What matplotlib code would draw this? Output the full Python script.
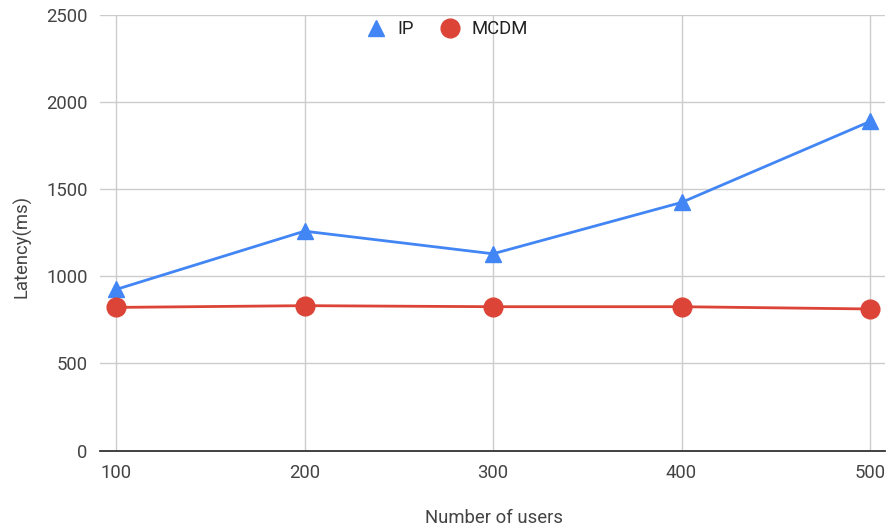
import matplotlib
matplotlib.use("Agg")
import matplotlib.pyplot as plt

users = [100, 200, 300, 400, 500]
ip_latency = [925, 1260, 1130, 1425, 1890]
mcdm_latency = [822, 832, 826, 826, 813]
y_ticks = [0, 500, 1000, 1500, 2000, 2500]

plt.rcParams['font.family'] = ['Roboto', 'DejaVu Sans']

W, H = 888, 529
top_px, bot_px, left_px, right_px = 15.3, 450.5, 100, 885
fig = plt.figure(figsize=(W / 100, H / 100), dpi=100)
ax = fig.add_axes([left_px / W, 1 - bot_px / H,
                   (right_px - left_px) / W, (bot_px - top_px) / H])

blue = '#4285F4'
red = '#DB4437'
fs = 13.3

ax.plot(users, ip_latency, color=blue, lw=2, marker='^', ms=11,
        label='IP', zorder=3, clip_on=False)
ax.plot(users, mcdm_latency, color=red, lw=2, marker='o', ms=13.5,
        label='MCDM', zorder=4, clip_on=False)

# 100 sits at 116 px and 500 at 870 px
px_per_user = (870 - 116) / 400
ax.set_xlim(100 - (116 - left_px) / px_per_user, 500 + (right_px - 870) / px_per_user)
ax.set_ylim(0, 2500)
ax.set_xticks(users)
ax.set_yticks(y_ticks)
ax.grid(True, color='#cccccc', lw=1)
ax.set_axisbelow(True)
for s in ['top', 'right', 'left']:
    ax.spines[s].set_visible(False)
ax.spines['bottom'].set_color('#333333')
ax.spines['bottom'].set_linewidth(1.3)
ax.tick_params(length=0, labelsize=fs, colors='#444444')
ax.tick_params(axis='x', pad=9.5)
ax.tick_params(axis='y', pad=9)

ax.set_xlabel('Number of users', fontsize=fs, color='#444444')
ax.set_ylabel('Latency(ms)', fontsize=fs, color='#444444')
ax.xaxis.label.set_va('center')
ax.yaxis.label.set_va('center')
ax.xaxis.set_label_coords((493.5 - left_px) / (right_px - left_px),
                          (bot_px - 518) / (bot_px - top_px))
ax.yaxis.set_label_coords((21.7 - left_px) / (right_px - left_px),
                          (bot_px - 246) / (bot_px - top_px))

leg = fig.legend(loc='center', bbox_to_anchor=(447 / W, 1 - 29 / H), ncol=2,
                 frameon=False, fontsize=fs, handlelength=1.1,
                 handletextpad=0.6, columnspacing=1.4, borderaxespad=0)
for h in leg.get_lines():
    h.set_linestyle('none')
for t in leg.get_texts():
    t.set_color('#222222')

fig.savefig('out.png', dpi=100)
